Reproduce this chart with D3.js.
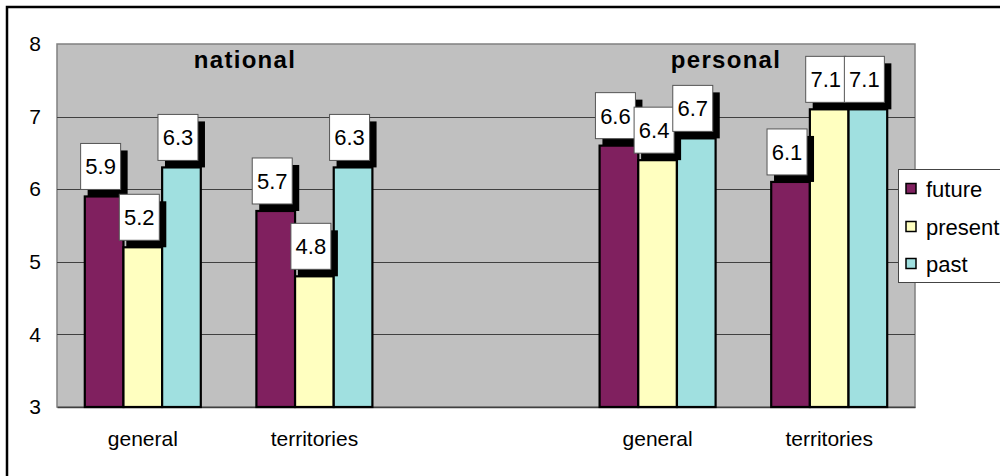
<!DOCTYPE html>
<html>
<head>
<meta charset="utf-8">
<script src="https://cdn.jsdelivr.net/npm/d3@7"></script>
<style>
  html, body { margin: 0; padding: 0; background: #fff; }
  svg { display: block; font-family: Arial, "Liberation Sans", sans-serif; }
</style>
</head>
<body>
<svg id="chart" width="1000" height="476"></svg>
<script>
// Category slots along the x axis (the middle slot is an empty spacer)
const categories = ["general", "territories", "", "general", "territories"];
const seriesNames = ["future", "present", "past"];
const seriesColors = ["#80205F", "#FFFFC0", "#A0E0E0"];
// Values per series, one per category slot (null = no bar)
const future  = [5.9, 5.7, null, 6.6, 6.1];
const present = [5.2, 4.8, null, 6.4, 7.1];
const past    = [6.3, 6.3, null, 6.7, 7.1];
const yTicks = [3, 4, 5, 6, 7, 8];
const panelTitles = ["national", "personal"];

const series = [future, present, past];
const svg = d3.select("#chart");

const plot = { left: 57, top: 44, right: 915, bottom: 407 };

// Outer chart frame
svg.append("rect")
  .attr("x", 7).attr("y", 7).attr("width", 1010).attr("height", 490)
  .attr("fill", "#fff").attr("stroke", "#000").attr("stroke-width", 2.5);

const x = d3.scaleBand()
  .domain(d3.range(categories.length))
  .range([plot.left, plot.right])
  .paddingInner(0).paddingOuter(0);

const y = d3.scaleLinear().domain([3, 8]).range([plot.bottom, plot.top]);

const groupFrac = 0.676;
const inner = d3.scaleBand()
  .domain(d3.range(seriesNames.length))
  .range([0, x.bandwidth() * groupFrac]);
const groupOffset = (x.bandwidth() - x.bandwidth() * groupFrac) / 2;

// Plot area background
svg.append("rect")
  .attr("x", plot.left).attr("y", plot.top)
  .attr("width", plot.right - plot.left).attr("height", plot.bottom - plot.top)
  .attr("fill", "#C0C0C0").attr("stroke", "#808080").attr("stroke-width", 1.5);

// Horizontal gridlines
svg.append("g").selectAll("line")
  .data(yTicks.filter(t => t > 3 && t < 8))
  .join("line")
  .attr("x1", plot.left).attr("x2", plot.right)
  .attr("y1", d => Math.round(y(d)) + 0.5).attr("y2", d => Math.round(y(d)) + 0.5)
  .attr("stroke", "#404040").attr("stroke-width", 1);

// Y axis labels
const yAxis = d3.axisLeft(y).tickValues(yTicks).tickSize(0).tickPadding(16)
  .tickFormat(d3.format("d"));
const yg = svg.append("g").attr("transform", `translate(${plot.left},0)`).call(yAxis);
yg.select(".domain").remove();
yg.selectAll("text").attr("font-size", 21).attr("fill", "#000")
  .attr("font-family", "Arial, 'Liberation Sans', sans-serif");

// X axis labels
const xAxis = d3.axisBottom(x).tickSize(0).tickPadding(24)
  .tickFormat(i => categories[i]);
const xg = svg.append("g").attr("transform", `translate(0,${plot.bottom})`).call(xAxis);
xg.select(".domain").attr("stroke", "#404040").attr("stroke-width", 1.5);
xg.selectAll("text").attr("font-size", 21).attr("fill", "#000")
  .attr("font-family", "Arial, 'Liberation Sans', sans-serif");

// Bars
const barData = [];
series.forEach((vals, s) => vals.forEach((v, i) => {
  if (v != null) barData.push({ s, i, v });
}));

svg.append("g").selectAll("rect")
  .data(barData)
  .join("rect")
  .attr("x", d => x(d.i) + groupOffset + inner(d.s))
  .attr("y", d => y(d.v))
  .attr("width", inner.bandwidth())
  .attr("height", d => y(3) - y(d.v))
  .attr("fill", d => seriesColors[d.s])
  .attr("stroke", "#000").attr("stroke-width", 2.2);

// Value labels: white box with a black drop shadow, ordered by category then series
const labelData = barData.slice().sort((a, b) => a.i - b.i || a.s - b.s);
const bw = 40, bh = 46, sh = 7;
const lg = svg.append("g");
labelData.forEach(d => {
  const cx = x(d.i) + groupOffset + inner(d.s) + inner.bandwidth() / 2;
  const bx = cx - (bw + sh) / 2;
  const by = y(d.v) - 7 - bh;
  lg.append("rect").attr("x", bx + sh).attr("y", by + sh)
    .attr("width", bw).attr("height", bh).attr("fill", "#000");
  lg.append("rect").attr("x", bx).attr("y", by)
    .attr("width", bw).attr("height", bh)
    .attr("fill", "#fff").attr("stroke", "#555").attr("stroke-width", 1);
  lg.append("text").attr("x", bx + bw / 2).attr("y", by + bh / 2 + 8)
    .attr("text-anchor", "middle").attr("font-size", 22).attr("fill", "#000")
    .text(d3.format(".1f")(d.v));
});

// Panel titles
const titleX = [245, 726];
svg.append("g").selectAll("text")
  .data(panelTitles)
  .join("text")
  .attr("x", (d, i) => titleX[i]).attr("y", 68)
  .attr("text-anchor", "middle")
  .attr("font-size", 24).attr("font-weight", "bold")
  .attr("letter-spacing", 1.3)
  .attr("fill", "#000")
  .text(d => d);

// Legend
const leg = svg.append("g");
leg.append("rect").attr("x", 898.5).attr("y", 169.5).attr("width", 120).attr("height", 113)
  .attr("fill", "#fff").attr("stroke", "#444").attr("stroke-width", 1);
const legY = [189, 227, 264];
seriesNames.forEach((name, s) => {
  leg.append("rect").attr("x", 906).attr("y", legY[s] - 5.5).attr("width", 10).attr("height", 10)
    .attr("fill", seriesColors[s]).attr("stroke", "#000").attr("stroke-width", 1.5);
  leg.append("text").attr("x", 926).attr("y", legY[s] + 7.5)
    .attr("font-size", 22).attr("fill", "#000").text(name);
});
</script>
</body>
</html>
